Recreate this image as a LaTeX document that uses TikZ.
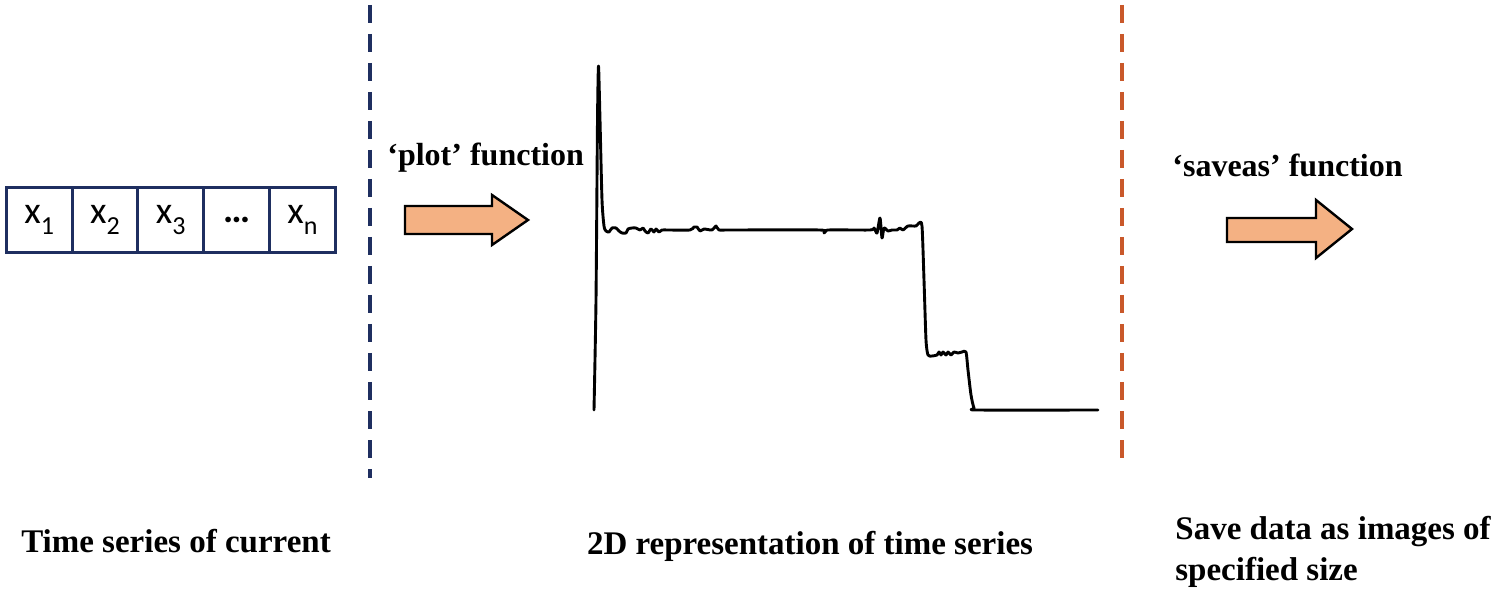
\documentclass[tikz,border=0pt]{standalone}
\usepackage{fontspec}
\setmainfont{Liberation Serif}
\newfontfamily\cellfont{Carlito}
\definecolor{navy}{RGB}{31,47,96}
\definecolor{rust}{RGB}{201,88,42}
\definecolor{peach}{RGB}{244,177,131}
\begin{document}
\begin{tikzpicture}[x=0.5pt,y=-0.5pt,
  cell/.style={draw=navy,line width=1.4pt,minimum width=32.8pt,minimum height=32.5pt,inner sep=0pt,anchor=north west,font=\cellfont\fontsize{19}{22}\selectfont},
  lbl/.style={font=\bfseries\fontsize{16.5}{20.5}\selectfont,inner sep=0pt},
  toplbl/.style={font=\bfseries\fontsize{16}{20}\selectfont,inner sep=0pt,anchor=west},
  divider/.style={line width=2pt,dash pattern=on 9pt off 5.5pt},
  blockarrow/.style={draw=black,fill=peach,line width=1.2pt,line join=miter},
  curve/.style={line width=1.45pt,line join=round,line cap=round}]
\useasboundingbox (0,0) rectangle (1500,593);
\newcommand{\xs}[1]{x\raisebox{-0.28em}{\fontsize{13}{13}\selectfont #1}}
% cells
\node[cell] (c1) at (5,186) {\xs{1}};
\node[cell] (c2) at (70.8,186) {\xs{2}};
\node[cell] (c3) at (136.6,186) {\xs{3}};
\node[cell] (c4) at (202.4,186) {\textbf{…}};
\node[cell] (c5) at (268.2,186) {\xs{n}};
% dividers
\draw[divider,navy] (370,5) -- (370,478);
\draw[divider,rust] (1122,5) -- (1122,462);
% block arrows
\draw[blockarrow] (405,206) -- (492,206) -- (492,195) -- (528,220) -- (492,245) -- (492,234) -- (405,234) -- cycle;
\draw[blockarrow] (1227,218) -- (1316,218) -- (1316,200) -- (1352,229) -- (1316,258) -- (1316,242) -- (1227,242) -- cycle;
% labels
\node[toplbl] (l1) at (387,158) {‘plot’ function};
\node[toplbl] (l2) at (1172,165) {‘saveas’ function};
\node[lbl] (t1) at (176,541) {Time series of current};
\node[lbl] (t2) at (810,546) {2D representation of time series};
\node[lbl,anchor=north west,align=left] (t3) at (1175,516) {Save data as images of\\specified size};
% plot
\draw[curve] plot[smooth,tension=0.4] coordinates {
 (594,410) (596,300) (597.5,120) (598.5,66) (600,120) (602,200) (604,226) (606,231)
 (609,232) (612,228) (616,228) (619,231) (622,233) (626,233) (628,229) (632,228) (636,228)
 (640,230) (643,228) (645,231) (648,233) (651,229) (654,232) (656,229) (659,232) (662,230) (668,230)
 (690,230) (694,227) (697,227) (700,231) (704,229) (712,230) (716,226) (719,230) (730,230)
 (820,230) (824,233) (828,230) (870,230) (874,228) (877,233) (880,218) (882,238) (884,228) (888,231)
 (892,230) (897,230) (900,228) (903,230) (908,226) (916,226) (919,223) (922,226)
 (924,280) (926,340) (928,355) (932,356) (937,355) (939,352) (941,355) (943,352) (946,355) (948,352)
 (951,355) (954,352) (958,353) (962,352) (966,352) (968,370) (971,395) (974,408) (978,410) (1098,410)};
\end{tikzpicture}
\end{document}
